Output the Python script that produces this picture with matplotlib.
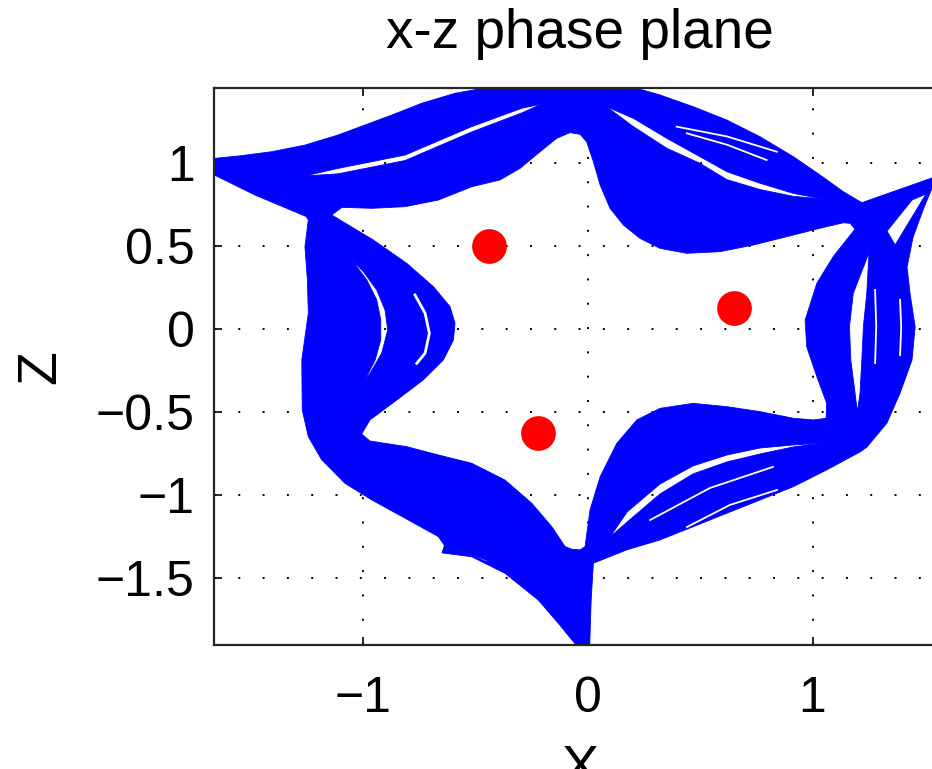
import numpy as np
import matplotlib
matplotlib.use("Agg")
import matplotlib.pyplot as plt
from matplotlib.path import Path
from matplotlib.patches import PathPatch

plt.rcParams["font.family"] = ["Liberation Sans", "DejaVu Sans"]

# outer edge of the trajectory bundle (x, z)
band_x = [-1.700, -1.659, -1.552, -1.404, -1.256, -1.108, -0.989, -0.870, -0.737, -0.589,
          -0.441, -0.367, -0.211, 0.144, 0.219, 0.322, 0.470, 0.619, 0.767, 0.915,
          1.033, 1.137, 1.219, 1.531, 1.611, 1.611, 1.531, 1.491, 1.447, 1.420,
          1.433, 1.456, 1.442, 1.389, 1.331, 1.242, 1.211, 1.063, 0.915, 0.767,
          0.619, 0.470, 0.322, 0.174, 0.026, 0.016, 0.009, -0.051, -0.051, -0.130,
          -0.219, -0.367, -0.515, -0.647, -0.636, -0.663, -0.811, -0.959, -1.078, -1.181,
          -1.241, -1.268, -1.270, -1.241, -1.245, -1.256, -1.241, -1.251, -1.478, -1.659,
          -1.700]
band_z = [1.030, 1.028, 1.042, 1.068, 1.108, 1.169, 1.229, 1.289, 1.360, 1.420,
          1.456, 1.460, 1.530, 1.530, 1.450, 1.410, 1.339, 1.259, 1.158, 1.038,
          0.928, 0.827, 0.761, 0.910, 0.952, 0.867, 0.849, 0.717, 0.554, 0.373,
          0.217, 0.012, -0.187, -0.386, -0.566, -0.711, -0.741, -0.849, -0.950, -1.030,
          -1.110, -1.191, -1.271, -1.331, -1.411, -1.633, -1.934, -1.934, -1.904, -1.773,
          -1.633, -1.472, -1.372, -1.349, -1.304, -1.251, -1.140, -1.030, -0.930, -0.789,
          -0.649, -0.488, -0.187, 0.095, 0.295, 0.496, 0.657, 0.678, 0.807, 0.928,
          0.928]

# empty region in the middle of the attractor
hole_x = [-1.137, -1.092, -0.959, -0.811, -0.663, -0.515, -0.389, -0.300, -0.211, -0.137,
          -0.078, -0.033, -0.004, 0.026, 0.056, 0.100, 0.159, 0.233, 0.322, 0.441,
          0.589, 0.737, 0.885, 1.033, 1.137, 1.167, 1.189, 1.092, 1.019, 0.967,
          0.974, 1.019, 1.063, 1.060, 1.004, 0.915, 0.767, 0.619, 0.470, 0.322,
          0.219, 0.130, 0.056, 0.011, -0.011, -0.033, -0.070, -0.100, -0.159, -0.248,
          -0.367, -0.515, -0.663, -0.804, -0.967, -1.004, -0.967, -0.848, -0.730, -0.641,
          -0.596, -0.589, -0.611, -0.685, -0.804, -0.952]
hole_z = [0.687, 0.733, 0.727, 0.737, 0.777, 0.857, 0.898, 0.968, 1.068, 1.149,
          1.183, 1.173, 1.128, 1.008, 0.867, 0.727, 0.627, 0.546, 0.486, 0.456,
          0.466, 0.506, 0.556, 0.607, 0.640, 0.637, 0.602, 0.436, 0.275, 0.054,
          -0.107, -0.287, -0.448, -0.538, -0.548, -0.538, -0.498, -0.468, -0.448, -0.478,
          -0.548, -0.689, -0.890, -1.090, -1.311, -1.331, -1.327, -1.311, -1.191, -1.050,
          -0.910, -0.809, -0.759, -0.709, -0.675, -0.633, -0.548, -0.428, -0.307, -0.187,
          -0.066, 0.034, 0.134, 0.255, 0.396, 0.536]

# gaps between strands inside the bundle
gap_ul_x = [-1.256, -1.108, -0.811, -0.515, -0.292, -0.204, -0.292, -0.515, -0.811, -1.108]
gap_ul_z = [0.922, 0.968, 1.048, 1.219, 1.330, 1.355, 1.302, 1.187, 1.015, 0.935]

gap_ur_x = [0.085, 0.204, 0.352, 0.500, 0.619, 0.767, 0.915, 1.047, 0.915, 0.767, 0.619, 0.500, 0.352, 0.204]
gap_ur_z = [1.339, 1.269, 1.149, 1.038, 0.948, 0.878, 0.817, 0.783, 0.799, 0.840, 0.900, 0.998, 1.089, 1.219]

gap_l_x = [-1.048, -0.981, -0.937, -0.919, -0.919, -0.944, -0.989, -1.041,
           -1.026, -0.967, -0.915, -0.888, -0.900, -0.937, -0.996]
gap_l_z = [0.416, 0.295, 0.175, 0.054, -0.066, -0.187, -0.307, -0.428,
           -0.387, -0.267, -0.146, -0.006, 0.114, 0.235, 0.345]

gap_r_x = [1.251, 1.181, 1.164, 1.170, 1.189, 1.199, 1.211, 1.219, 1.226, 1.241]
gap_r_z = [0.460, 0.215, 0.014, -0.187, -0.387, -0.498, -0.387, -0.187, 0.014, 0.215]

gap_lr_x = [0.100, 0.176, 0.322, 0.469, 0.620, 0.767, 0.913, 1.047, 0.913, 0.767, 0.620, 0.469, 0.322, 0.176]
gap_lr_z = [-1.253, -1.102, -0.934, -0.825, -0.759, -0.717, -0.699, -0.687, -0.711, -0.753, -0.801, -0.873, -0.994, -1.163]

gap_arm_x = [1.331, 1.442, 1.504, 1.367]
gap_arm_z = [0.590, 0.777, 0.813, 0.506]

gap_tail_x = [-0.611, -0.433, -0.278, -0.176, -0.300, -0.451]
gap_tail_z = [-1.313, -1.410, -1.542, -1.663, -1.518, -1.392]

# hairline gaps (thin strands)
thin_x = [[-0.767, -0.722, -0.703, -0.722, -0.759],
          [1.278, 1.283, 1.278],
          [1.389, 1.394, 1.389],
          [0.278, 0.544, 0.824],
          [0.442, 0.633, 0.842],
          [0.396, 0.620, 0.841],
          [0.441, 0.620, 0.796]]
thin_z = [[0.205, 0.095, -0.026, -0.146, -0.207],
          [0.235, 0.015, -0.205],
          [0.175, 0.010, -0.157],
          [-1.151, -0.958, -0.831],
          [-1.193, -1.060, -0.970],
          [1.219, 1.160, 1.068],
          [1.179, 1.110, 1.018]]
thin_w = [2.0, 1.3, 1.3, 1.3, 1.3, 1.3, 1.3]

# equilibrium points
eq_x = [-0.436, 0.652, -0.221]
eq_z = [0.502, 0.125, -0.628]

xticks = [-1, 0, 1]
zticks = [-1.5, -1, -0.5, 0, 0.5, 1]


def ring(xs, zs, ccw):
    pts = np.column_stack([xs, zs])
    area = 0.5 * np.sum(pts[:, 0] * np.roll(pts[:, 1], -1) - np.roll(pts[:, 0], -1) * pts[:, 1])
    if (area > 0) != ccw:
        pts = pts[::-1]
    verts = np.vstack([pts, pts[:1]])
    codes = [Path.MOVETO] + [Path.LINETO] * (len(pts) - 1) + [Path.CLOSEPOLY]
    return verts, codes


fig = plt.figure(figsize=(9.32, 7.69), dpi=100)
ax = fig.add_axes([0.2299, 0.16125, 0.7851, 0.7239])

# bundle = outer edge with the holes cut out (holes wound the other way)
verts, codes = ring(band_x, band_z, True)
all_v, all_c = [verts], codes
for gx, gz in [(hole_x, hole_z), (gap_ul_x, gap_ul_z), (gap_ur_x, gap_ur_z), (gap_l_x, gap_l_z),
               (gap_r_x, gap_r_z), (gap_lr_x, gap_lr_z), (gap_arm_x, gap_arm_z), (gap_tail_x, gap_tail_z)]:
    v, c = ring(gx, gz, False)
    all_v.append(v)
    all_c = all_c + c
ax.add_patch(PathPatch(Path(np.vstack(all_v), all_c), facecolor="#0000ff", edgecolor="#0000ff",
                       linewidth=0.6, zorder=2))

for tx, tz, w in zip(thin_x, thin_z, thin_w):
    ax.plot(tx, tz, color="white", linewidth=w, zorder=3)

ax.plot(eq_x, eq_z, "o", color="#ff0000", markersize=25, markeredgewidth=0, zorder=4)

ax.set_xlim(-1.659, 1.593)
ax.set_ylim(-1.904, 1.450)
ax.set_xticks(xticks)
ax.set_yticks(zticks)
ax.set_xticklabels(["\u22121", "0", "1"])
ax.set_yticklabels(["\u22121.5", "\u22121", "\u22120.5", "0", "0.5", "1"])
ax.set_axisbelow(True)
ax.grid(True, color="black", linestyle=(0, (1, 11.5)), linewidth=1.4)
ax.tick_params(direction="in", top=True, right=True, length=6, width=1.2, labelsize=36)
ax.tick_params(axis="x", pad=22)
ax.tick_params(axis="y", pad=14)
for s in ax.spines.values():
    s.set_linewidth(1.6)
    s.set_color("#262626")

ax.set_title("x-z phase plane", fontsize=39.5, pad=29)
ax.set_xlabel("X", fontsize=40, va="top")
ax.xaxis.set_label_coords(0.4998, -0.178)
ax.set_ylabel("Z", fontsize=40, va="center")
ax.yaxis.set_label_coords(-0.236, 0.5)

fig.savefig("out.png", dpi=100)
